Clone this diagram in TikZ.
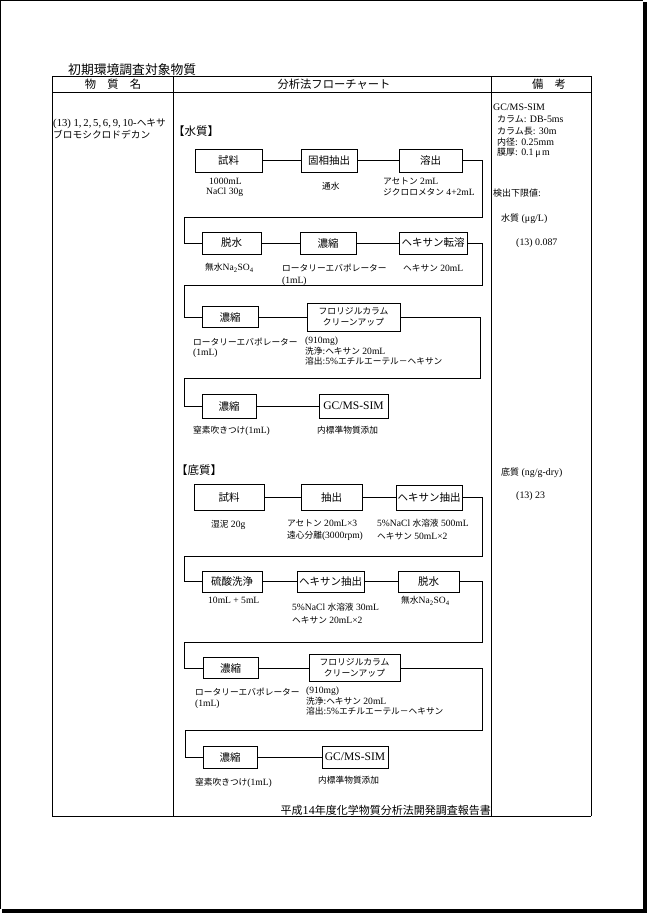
\documentclass[tikz,border=0pt]{standalone}
\usepackage{fontspec}
\setmainfont{Liberation Serif}[Scale=1.1]
\newfontfamily\jpf{Noto Sans CJK JP}
\newcommand\jt[1]{{\jpf #1}}
\newcommand\bxf{\fontsize{10.5}{12}\selectfont}
\newcommand\flf{\fontsize{8.8}{10.5}\selectfont}
\newcommand\anf{\fontsize{8.7}{10}\selectfont}
\newcommand\rcf{\fontsize{9}{10}\selectfont}
\newcommand\hdf{\fontsize{11.3}{13}\selectfont}
\begin{document}
\begin{tikzpicture}[x=1pt,y=-1pt,
  box/.style={draw,line width=0.9pt,inner sep=0pt,font=\bxf,align=center},
  ann/.style={anchor=west,inner sep=0pt,font=\anf},
  rc/.style={anchor=west,inner sep=0pt,font=\rcf},
  hd/.style={anchor=center,inner sep=0pt,font=\hdf},
  ln/.style={line width=0.9pt},
  tl/.style={line width=0.9pt}]
\useasboundingbox (0,0) rectangle (647,913);
% page frame
\draw[line width=1pt] (0.5,909) -- (0.5,0.5) -- (643,0.5);
\fill (643,2) rectangle (647,913);
\fill (2,909) rectangle (647,913);
% title
\node[anchor=west,inner sep=0pt,font=\fontsize{12.8}{14}\selectfont] (title) at (68,70) {\jt{初期環境調査対象物質}};
% table
\draw[tl] (52,76) -- (591,76) (52,92) -- (591,92) (52,816) -- (591,816);
\draw[tl] (52,76) -- (52,816) (173,76) -- (173,816) (491,76) -- (491,816) (591,76) -- (591,816);
\node[hd] (h1) at (113,84) {\jt{物　質　名}};
\node[hd] (h2) at (334,84) {\jt{分析法フローチャート}};
\node[hd] (h3) at (549,84) {\jt{備　考}};
% substance
\node[anchor=west,inner sep=0pt,font=\fontsize{9.7}{11}\selectfont] (sub1) at (53,123.5) {(13) 1,\,2,\,5,\,6,\,9,\,10-\jt{ヘキサ}};
\node[anchor=west,inner sep=0pt,font=\fontsize{9.7}{11}\selectfont] (sub2) at (53,135) {\jt{ブロモシクロドデカン}};
% remarks
\node[rc] (r1) at (493,107) {GC/MS-SIM};
\node[rc] (r2) at (497,119) {\jt{カラム}: DB-5ms};
\node[rc] (r3) at (497,131) {\jt{カラム長}: 30m};
\node[rc] (r4) at (497,142) {\jt{内径}: 0.25mm};
\node[rc] (r5) at (497,153) {\jt{膜厚}: 0.1\,μ\,m};
\node[rc] (r6) at (493,193) {\jt{検出下限値}:};
\node[rc] (r7) at (501,219) {\jt{水質} (μg/L)};
\node[rc] (r8) at (516,243) {(13) 0.087};
\node[rc] (r9) at (501,473) {\jt{底質} (ng/g-dry)};
\node[rc] (r10) at (516,496) {(13) 23};
% footer
\node[anchor=east,inner sep=0pt,font=\fontsize{11}{12}\selectfont] (foot) at (491,810) {\jt{平成}14\jt{年度化学物質分析法開発調査報告書}};

% ===== water =====
\node[anchor=west,inner sep=0pt,font=\fontsize{11.5}{13}\selectfont] (hw) at (173,131) {\jt{【水質】}};
\node[box,minimum width=67pt,minimum height=23pt] (w1) at (228.5,160.5) {\jt{試料}};
\node[box,minimum width=56pt,minimum height=23pt] (w2) at (329,160.5) {\jt{固相抽出}};
\node[box,minimum width=63pt,minimum height=23pt] (w3) at (430.5,160.5) {\jt{溶出}};
\node[box,minimum width=59pt,minimum height=22pt] (w4) at (231.5,243) {\jt{脱水}};
\node[box,minimum width=56pt,minimum height=22pt] (w5) at (328,243) {\jt{濃縮}};
\node[box,minimum width=68pt,minimum height=22pt] (w6) at (433,243) {\jt{ヘキサン転溶}};
\node[box,minimum width=56pt,minimum height=21pt] (w7) at (230,317) {\jt{濃縮}};
\node[box,minimum width=93pt,minimum height=28pt,font=\flf] (w8) at (353.5,317) {\jt{フロリジルカラム}\\[1pt]\jt{クリーンアップ}};
\node[box,minimum width=54pt,minimum height=24pt] (w9) at (229,406) {\jt{濃縮}};
\node[box,minimum width=69pt,minimum height=24pt] (w10) at (353.5,406) {GC/MS-SIM};

\coordinate (a1) at (482,217); \coordinate (b1) at (184,217);
\coordinate (a2) at (482,285); \coordinate (b2) at (184,285);
\coordinate (a3) at (480,378); \coordinate (b3) at (184,378);
\draw[ln] (w1.east) -- (w2.west) (w2.east) -- (w3.west);
\draw[ln] (w3.east) -| (a1) -- (b1) |- (w4.west);
\draw[ln] (w4.east) -- (w5.west) (w5.east) -- (w6.west);
\draw[ln] (w6.east) -| (a2) -- (b2) |- (w7.west);
\draw[ln] (w7.east) -- (w8.west);
\draw[ln] (w8.east) -| (a3) -- (b3) |- (w9.west);
\draw[ln] (w9.east) -- (w10.west);

\node[ann] (n1) at (209,181) {1000mL};
\node[ann] (n2) at (206,192) {NaCl 30g};
\node[ann] (n3) at (322,186) {\jt{通水}};
\node[ann] (n4) at (383,181) {\jt{アセトン} 2mL};
\node[ann] (n5) at (383,192) {\jt{ジクロロメタン} 4+2mL};
\node[ann] (n6) at (205,268) {\jt{無水}Na\textsubscript{2}SO\textsubscript{4}};
\node[ann] (n7) at (282,268) {\jt{ロータリーエバポレーター}};
\node[ann] (n8) at (282,281) {(1mL)};
\node[ann] (n9) at (403,268) {\jt{ヘキサン} 20mL};
\node[ann] (n10) at (193,342) {\jt{ロータリーエバポレーター}};
\node[ann] (n11) at (193,353) {(1mL)};
\node[ann] (n12) at (305,341) {(910mg)};
\node[ann] (n13) at (305,351) {\jt{洗浄}:\jt{ヘキサン} 20mL};
\node[ann] (n14) at (305,361) {\jt{溶出}:5\%\jt{エチルエーテル－ヘキサン}};
\node[ann] (n15) at (193,431) {\jt{窒素吹きつけ}(1mL)};
\node[ann] (n16) at (317,430) {\jt{内標準物質添加}};

% ===== sediment =====
\node[anchor=west,inner sep=0pt,font=\fontsize{11.5}{13}\selectfont] (hs) at (176,470) {\jt{【底質】}};
\node[box,minimum width=70pt,minimum height=26pt] (s1) at (229,497.5) {\jt{試料}};
\node[box,minimum width=61pt,minimum height=26pt] (s2) at (331.5,497.5) {\jt{抽出}};
\node[box,minimum width=66pt,minimum height=25pt] (s3) at (429,497.5) {\jt{ヘキサン抽出}};
\node[box,minimum width=60pt,minimum height=21pt] (s4) at (232,581.5) {\jt{硫酸洗浄}};
\node[box,minimum width=67pt,minimum height=21pt] (s5) at (330.5,581.5) {\jt{ヘキサン抽出}};
\node[box,minimum width=61pt,minimum height=21pt] (s6) at (428.5,581.5) {\jt{脱水}};
\node[box,minimum width=55pt,minimum height=21pt] (s7) at (230.5,668) {\jt{濃縮}};
\node[box,minimum width=91pt,minimum height=27pt,font=\flf] (s8) at (354.5,668) {\jt{フロリジルカラム}\\[1pt]\jt{クリーンアップ}};
\node[box,minimum width=54pt,minimum height=22pt] (s9) at (230,757) {\jt{濃縮}};
\node[box,minimum width=66pt,minimum height=22pt] (s10) at (355,757) {GC/MS-SIM};

\coordinate (a5) at (482,556); \coordinate (b5) at (184,556);
\coordinate (a6) at (482,642); \coordinate (b6) at (184,642);
\coordinate (a7) at (482,730); \coordinate (b7) at (185,730);
\draw[ln] (s1.east) -- (s2.west) (s2.east) -- (s3.west);
\draw[ln] (s3.east) -| (a5) -- (b5) |- (s4.west);
\draw[ln] (s4.east) -- (s5.west) (s5.east) -- (s6.west);
\draw[ln] (s6.east) -| (a6) -- (b6) |- (s7.west);
\draw[ln] (s7.east) -- (s8.west);
\draw[ln] (s8.east) -| (a7) -- (b7) |- (s9.west);
\draw[ln] (s9.east) -- (s10.west);

\node[ann] (m1) at (211,525) {\jt{湿泥} 20g};
\node[ann] (m2) at (287,523) {\jt{アセトン} 20mL×3};
\node[ann] (m3) at (287,536) {\jt{遠心分離}(3000rpm)};
\node[ann] (m4) at (377,523) {5\%NaCl \jt{水溶液} 500mL};
\node[ann] (m5) at (377,536) {\jt{ヘキサン} 50mL×2};
\node[ann] (m6) at (208,600) {10mL + 5mL};
\node[ann] (m7) at (292,607) {5\%NaCl \jt{水溶液} 30mL};
\node[ann] (m8) at (292,620) {\jt{ヘキサン} 20mL×2};
\node[ann] (m9) at (401,601) {\jt{無水}Na\textsubscript{2}SO\textsubscript{4}};
\node[ann] (m10) at (195,692) {\jt{ロータリーエバポレーター}};
\node[ann] (m11) at (195,704) {(1mL)};
\node[ann] (m12) at (306,691) {(910mg)};
\node[ann] (m13) at (306,701) {\jt{洗浄}:\jt{ヘキサン} 20mL};
\node[ann] (m14) at (306,711.5) {\jt{溶出}:5\%\jt{エチルエーテル－ヘキサン}};
\node[ann] (m15) at (195,783) {\jt{窒素吹きつけ}(1mL)};
\node[ann] (m16) at (318,780) {\jt{内標準物質添加}};
\end{tikzpicture}
\end{document}
